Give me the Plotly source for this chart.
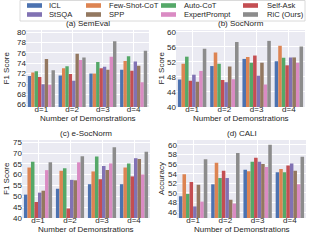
import plotly.graph_objects as go

W, H = 310, 241

categories = ["d=1", "d=2", "d=3", "d=4"]
methods = ["ICL", "Few-Shot-CoT", "Auto-CoT", "Self-Ask", "StSQA", "SPP", "ExpertPrompt", "RiC (Ours)"]
colors = ["#4C72B0", "#DD8452", "#55A868", "#C44E52", "#8172B3", "#937860", "#DA8BC3", "#8C8C8C"]

# rows follow `methods`, columns follow `categories`
semeval = [
    [71.5, 71.6, 72.0, 72.7],
    [72.2, 73.0, 72.0, 74.4],
    [72.4, 73.4, 74.2, 75.3],
    [71.3, 71.9, 73.0, 72.5],
    [69.9, 70.6, 73.3, 74.3],
    [74.8, 75.8, 72.7, 73.5],
    [69.8, 74.6, 75.2, 70.3],
    [72.6, 75.1, 78.2, 76.4],
]
socnorm = [
    [47.3, 50.9, 52.8, 52.2],
    [51.5, 54.5, 53.3, 56.3],
    [53.4, 51.5, 51.8, 53.1],
    [47.0, 47.2, 53.7, 51.1],
    [48.6, 46.6, 48.3, 53.2],
    [46.7, 50.8, 51.8, 53.2],
    [49.6, 47.4, 46.0, 51.8],
    [55.5, 57.3, 57.6, 56.1],
]
esocnorm = [
    [50.8, 53.5, 55.6, 55.6],
    [63.3, 61.8, 61.5, 63.3],
    [66.0, 63.0, 68.4, 65.2],
    [47.4, 44.4, 57.9, 59.2],
    [51.7, 57.6, 64.0, 67.6],
    [52.6, 57.4, 62.1, 67.2],
    [62.1, 65.7, 65.2, 60.1],
    [65.7, 68.5, 72.7, 70.6],
]
cali = [
    [49.3, 51.8, 54.8, 54.3],
    [53.9, 56.3, 54.5, 55.0],
    [49.8, 53.1, 56.5, 54.3],
    [52.3, 54.6, 57.3, 55.7],
    [47.2, 53.1, 56.5, 56.1],
    [51.7, 48.6, 56.0, 54.6],
    [48.2, 47.8, 55.4, 51.8],
    [57.0, 58.3, 60.0, 57.5],
]

panel_titles = ["(a) SemEval", "(b) SocNorm", "(c) e-SocNorm", "(d) CALI"]
y_titles = ["F1 Score", "F1 Score", "F1 Score", "Accuracy"]
x_title = "Number of Demonstrations"
y_ranges = [[65.5, 80.4], [40, 60.5], [40, 76], [44.8, 61.0]]
y_dticks = [2, 4, 5, 2]
panels = [semeval, socnorm, esocnorm, cali]

# pixel boxes: (x0, x1, y0_top, y1_bottom)
boxes = [(26, 149, 30, 107), (176, 305, 30, 107), (22, 150, 140, 218), (177, 306, 140, 218)]
ytitle_x = [6, 161, 6, 161]

FONT = "Liberation Sans, Arial, sans-serif"
TXT = "#262626"
fig = go.Figure()

for p, data in enumerate(panels):
    xa = "x" if p == 0 else f"x{p+1}"
    ya = "y" if p == 0 else f"y{p+1}"
    for m, name in enumerate(methods):
        fig.add_trace(go.Bar(
            x=categories, y=data[m], name=name, marker_color=colors[m],
            marker_line_width=0, xaxis=xa, yaxis=ya, showlegend=False,
        ))

layout = dict(
    width=W, height=H, margin=dict(l=0, r=0, t=0, b=0, pad=0, autoexpand=False),
    paper_bgcolor="white", plot_bgcolor="#EAEAF2",
    barmode="group", bargap=0.12, bargroupgap=0,
    font=dict(family=FONT, size=8, color=TXT),
    showlegend=False,
)
annotations = []
shapes = []
for p in range(4):
    x0, x1, yt, yb = boxes[p]
    sfx = "" if p == 0 else str(p + 1)
    layout["xaxis" + sfx] = dict(
        domain=[x0 / W, x1 / W], anchor="y" + sfx, showgrid=True, gridcolor="white",
        gridwidth=1, zeroline=False, showline=False, ticks="", automargin=False,
        tickfont=dict(size=8, color=TXT), range=[-0.5, 3.5], ticklabelstandoff=-4,
    )
    layout["yaxis" + sfx] = dict(
        domain=[1 - yb / H, 1 - yt / H], anchor="x" + sfx, showgrid=True, gridcolor="white",
        gridwidth=1, zeroline=False, showline=False, ticks="", automargin=False,
        range=y_ranges[p], dtick=y_dticks[p], tick0=0,
        tickfont=dict(size=8, color=TXT), ticklabelstandoff=-1,
    )
    annotations.append(dict(
        text=panel_titles[p], xref="paper", yref="paper", x=(x0 + x1) / 2 / W,
        y=1 - (yt - 0.5) / H, xanchor="center", yanchor="bottom", showarrow=False,
        font=dict(size=8, color=TXT),
    ))
    annotations.append(dict(
        text=x_title, xref="paper", yref="paper", x=(x0 + x1) / 2 / W,
        y=1 - (yb + 11.5) / H, xanchor="center", yanchor="middle", showarrow=False,
        font=dict(size=8, color=TXT),
    ))
    annotations.append(dict(
        text=y_titles[p], xref="paper", yref="paper", x=ytitle_x[p] / W,
        y=1 - (yt + yb) / 2 / H, xanchor="center", yanchor="middle", showarrow=False,
        textangle=-90, font=dict(size=8, color=TXT),
    ))

# legend frame
shapes.append(dict(type="rect", xref="paper", yref="paper", x0=20 / W, x1=305 / W,
                   y0=1 - 21 / H, y1=1 - 0.5 / H, fillcolor="white",
                   line=dict(color="#D0D0D0", width=0.8), layer="below"))
patch_x = [27, 86, 161, 243]
text_x = [47, 107, 182, 265]
row_y = [5.5, 14.5]
for i, name in enumerate(methods):
    r, c = divmod(i, 4)
    px, py = patch_x[c], row_y[r]
    shapes.append(dict(type="rect", xref="paper", yref="paper", x0=px / W, x1=(px + 15) / W,
                       y0=1 - (py + 2.3) / H, y1=1 - (py - 2.3) / H,
                       fillcolor=colors[i], line=dict(width=0)))
    annotations.append(dict(text=name, xref="paper", yref="paper", x=text_x[c] / W,
                            y=1 - py / H, xanchor="left", yanchor="middle", showarrow=False,
                            font=dict(size=7.6, color=TXT)))

layout["annotations"] = annotations
layout["shapes"] = shapes
fig.update_layout(**layout)
fig.write_html(
    "out.html",
    config={"displayModeBar": False},
    post_script="document.body.style.margin='0';document.body.style.padding='0';",
)
